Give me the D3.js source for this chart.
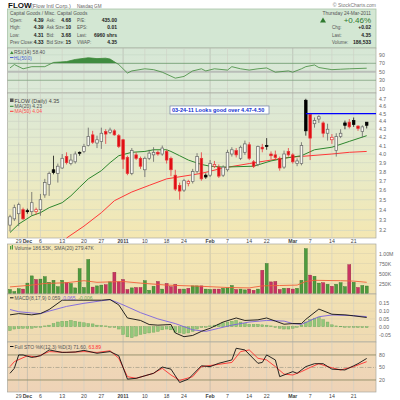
<!DOCTYPE html>
<html><head><meta charset="utf-8">
<script src="https://cdn.jsdelivr.net/npm/d3@7"></script>
<style>body{margin:0;background:#fff}svg{display:block;font-family:"Liberation Sans",Arial,sans-serif}</style>
</head><body><svg id="c" width="400" height="400"></svg>
<script>
// ---------- DATA ----------
const open  = [3.25,3.31,3.36,3.40,3.39,3.38,3.38,3.40,3.55,3.66,3.82,3.78,3.84,3.97,3.89,3.91,4.02,4.03,4.10,4.23,4.13,4.15,4.27,4.26,4.28,4.22,4.17,3.96,3.78,3.99,3.95,3.82,3.95,3.99,4.02,4.00,4.03,3.95,3.76,3.65,3.60,3.67,3.69,3.80,3.95,3.76,3.76,3.86,3.85,3.76,3.82,4.00,4.04,3.95,4.02,4.11,3.91,3.88,4.08,4.10,4.00,3.99,3.95,3.85,4.03,3.99,3.89,3.89,4.68,4.49,4.37,4.43,4.38,4.25,4.17,4.04,4.21,4.38,4.39,4.41,4.34,4.27,4.39];
const high  = [3.35,3.45,3.47,3.42,3.41,3.58,3.42,3.56,3.72,3.80,3.98,3.89,4.00,4.02,4.00,4.03,4.03,4.12,4.32,4.28,4.22,4.32,4.30,4.32,4.30,4.24,4.18,3.98,4.07,4.02,3.97,3.97,4.05,4.08,4.04,4.10,4.05,3.97,3.82,3.68,3.72,3.71,3.83,4.01,4.02,3.78,3.93,3.92,3.88,3.87,4.05,4.08,4.07,4.10,4.16,4.14,3.93,4.10,4.12,4.19,4.03,4.04,3.97,4.04,4.07,4.01,3.95,4.14,4.70,4.50,4.45,4.48,4.40,4.37,4.24,4.25,4.30,4.41,4.43,4.45,4.35,4.35,4.39];
const low   = [3.19,3.29,3.24,3.30,3.36,3.34,3.35,3.34,3.52,3.54,3.77,3.68,3.83,3.88,3.87,3.89,3.98,4.01,4.09,4.12,4.07,4.06,4.12,4.24,4.22,4.07,3.83,3.76,3.76,3.93,3.83,3.74,3.93,3.91,3.98,3.98,3.89,3.75,3.59,3.50,3.58,3.64,3.67,3.78,3.70,3.72,3.74,3.84,3.73,3.74,3.80,3.97,3.96,3.93,3.99,3.93,3.84,3.86,4.02,4.05,3.94,3.93,3.81,3.83,3.97,3.89,3.86,3.87,4.22,3.93,4.32,4.38,4.20,4.16,4.12,3.97,4.19,4.30,4.31,4.33,4.28,4.20,4.31];
const close = [3.33,3.42,3.45,3.31,3.38,3.47,3.40,3.50,3.68,3.78,3.79,3.86,3.95,3.90,3.93,4.00,4.01,4.09,4.21,4.14,4.17,4.25,4.24,4.29,4.23,4.09,3.94,3.78,4.04,3.95,3.86,3.95,4.01,4.02,4.00,4.07,3.93,3.82,3.61,3.59,3.70,3.69,3.80,3.97,3.72,3.74,3.89,3.88,3.75,3.85,4.02,4.05,3.99,4.08,4.12,3.95,3.86,4.09,4.06,4.09,3.98,3.96,3.84,4.00,3.99,3.91,3.92,4.10,4.28,4.19,4.41,4.46,4.25,4.30,4.20,4.21,4.25,4.35,4.33,4.36,4.31,4.33,4.35];
const volume = [100,50,120,110,260,440,350,360,420,280,330,170,330,270,250,140,620,150,850,160,190,210,220,290,530,290,350,100,140,150,150,320,80,180,300,110,250,170,230,110,110,130,190,190,190,110,100,110,110,130,140,200,100,110,90,110,80,110,580,750,290,300,100,130,130,110,130,330,1120,460,430,260,270,230,180,230,270,170,720,280,150,200,187];
const volSma20 = [[0,165],[4,200],[8,250],[13,270],[17,320],[20,280],[26,300],[30,260],[36,210],[44,180],[50,150],[55,140],[58,190],[62,200],[66,210],[68,300],[70,330],[76,320],[79,310],[82,280]];
const ma20 = [[0,3.18],[2,3.26],[5,3.34],[7,3.37],[9,3.42],[12,3.47],[14,3.54],[16,3.63],[18,3.72],[21,3.81],[23,3.90],[25,3.98],[28,4.02],[31,4.03],[33,4.05],[36,4.05],[37,4.03],[39,3.98],[41,3.93],[44,3.88],[46,3.86],[49,3.85],[56,3.86],[60,3.92],[63,3.95],[67,3.98],[70,4.05],[74,4.08],[78,4.15],[82,4.22]];
const ma50 = [[13,3.13],[17,3.24],[21,3.37],[24,3.49],[28,3.58],[32,3.65],[36,3.72],[40,3.75],[44,3.78],[49,3.84],[55,3.89],[60,3.93],[64,3.96],[69,3.98],[74,4.00],[78,4.02],[82,4.03]];
const rsi = [[0,59],[1,67],[3,57],[5,62],[8,62],[10,72],[13,74],[15,79],[18,83],[20,81],[22,82],[23,80],[25,67],[27,47],[28,52],[31,57],[33,55],[35,49],[38,35],[40,39],[42,52],[44,57],[45,52],[47,57],[50,54],[51,62],[53,57],[55,54],[57,57],[59,59],[61,49],[64,52],[65,49],[67,57],[68,62],[70,66],[71,60],[74,55],[76,56],[78,57],[82,58.4]];
const macdLine = [[0,0.076],[2,0.084],[5,0.076],[7,0.084],[9,0.11],[12,0.17],[17,0.17],[21,0.17],[23,0.174],[25,0.14],[27,0.056],[30,0.04],[32,0.014],[34,0.01],[37,0.014],[38,-0.04],[40,-0.064],[42,-0.056],[44,-0.03],[46,-0.01],[49,0.03],[52,0.056],[54,0.04],[57,0.044],[59,0.056],[61,0.036],[63,0.016],[65,0.02],[67,0.02],[68,0.047],[71,0.113],[74,0.08],[77,0.076],[79,0.07],[82,0.059]];
const macdSignal = [[0,0.11],[2,0.096],[5,0.088],[7,0.084],[9,0.10],[13,0.13],[17,0.15],[21,0.166],[23,0.174],[26,0.14],[30,0.09],[34,0.05],[38,0.02],[42,-0.02],[45,-0.03],[48,-0.01],[51,0.01],[55,0.03],[59,0.04],[63,0.036],[65,0.02],[67,0.015],[71,0.064],[74,0.075],[78,0.072],[82,0.065]];
const macdHist = [-0.025,-0.015,-0.012,-0.01,-0.01,-0.01,-0.005,0,0.005,0.01,0.02,0.03,0.035,0.035,0.04,0.035,0.03,0.025,0.02,0.018,0.01,0.008,0.005,0,-0.005,-0.015,-0.05,-0.065,-0.07,-0.06,-0.05,-0.045,-0.04,-0.035,-0.03,-0.02,-0.015,-0.02,-0.035,-0.04,-0.045,-0.04,-0.03,-0.015,-0.005,0,0.005,0.01,0.015,0.025,0.03,0.035,0.04,0.03,0.02,0.015,0.015,0.015,0.012,0.01,0.005,-0.005,-0.01,-0.015,-0.015,-0.01,0,0.01,0.03,0.045,0.055,0.06,0.045,0.03,0.012,0.005,0.003,0,-0.003,-0.003,-0.005,-0.006,-0.006];
const stoK = [[0,36],[1,48],[2,80],[3,80],[5,74],[7,78],[9,92],[12,86],[15,87],[17,91],[20,84],[23,88],[25,78],[27,22],[29,24],[31,30],[33,36],[35,51],[37,46],[39,14],[41,22],[44,54],[46,52],[48,60],[51,68],[52,96],[54,92],[57,60],[58,62],[59,80],[61,68],[62,28],[64,36],[65,40],[66,36],[68,52],[70,59],[72,59],[74,46],[77,44],[79,54],[80,59],[82,71.6]];
const stoD = [[0,52],[1,64],[4,78],[6,75],[9,88],[13,86],[17,88],[20,86],[23,90],[25,72],[27,28],[29,24],[33,36],[35,48],[37,32],[39,19],[42,28],[44,52],[47,56],[51,62],[53,88],[55,92],[57,72],[59,68],[61,52],[63,34],[65,32],[67,40],[69,50],[71,59],[73,52],[76,44],[79,52],[82,63.89]];
const xTickIdx = [2,4,7,12,17,21,26,31,36,40,46,50,55,59,65,69,74,79];
const xTickLabel = ["29","Dec","6","13","20","27","2011","10","18","24","Feb","7","14","22","Mar","7","14","21"];
const priceTicks = [3.2,3.3,3.4,3.5,3.6,3.7,3.8,3.9,4.0,4.1,4.2,4.3,4.4,4.5,4.6,4.7];
const rsiTicks = [10,30,50,70,90];
const volTicks = [250,500,750,1000];
const volTickLabel = ["250K","500K","750K","1.00M"];
const macdTicks = [-0.05,0,0.05,0.10,0.15];
const stoTicks = [20,50,80];
const resistance = 4.50, resistanceStart = 68;

// ---------- LAYOUT ----------
const svg = d3.select('#c');
const L = 7.5, R = 376;
const P = {rsi:[48,93], price:[93,238], vol:[244,294], macd:[294,342], sto:[342,392]};
const x = d3.scaleLinear().domain([0,82]).range([10,366.7]);
const yP = d3.scaleLog().domain([3.13,4.78]).range([P.price[1],P.price[0]]);
const yR = d3.scaleLinear().domain([0,106]).range([P.rsi[1],P.rsi[0]]);
const yV = d3.scaleLinear().domain([0,1250]).range([293.5,243.5]);
const yM = d3.scaleLinear().domain([-0.098,0.2096]).range([P.macd[1],P.macd[0]]);
const yS = d3.scaleLinear().domain([-8.8,111]).range([P.sto[1],P.sto[0]]);

const defs = svg.append('defs');
function grad(id, stops){
  const g = defs.append('linearGradient').attr('id',id).attr('x1',0).attr('y1',0).attr('x2',0).attr('y2',1);
  stops.forEach(s=>g.append('stop').attr('offset',s[0]).attr('stop-color',s[1]));
}
grad('gRsi',[[0,'#d6e7d5'],[1,'#dde9d8']]);
grad('gPrice',[[0,'#dae7d7'],[0.45,'#e6ebcb'],[1,'#f4e7b2']]);
grad('gVol',[[0,'#f4e7b6'],[1,'#f1e1b0']]);
grad('gMacd',[[0,'#f2e1b2'],[1,'#efdab2']]);
grad('gSto',[[0,'#f0dab6'],[1,'#eed3b7']]);

const FS = 5.6;
const txt = (xx,yy,s,o={}) => svg.append('text').attr('x',xx).attr('y',yy).text(s)
   .attr('font-size',o.fs||FS).attr('fill',o.fill||'#333').attr('font-weight',o.fw||'normal')
   .attr('text-anchor',o.anchor||'start');

// ---------- HEADER ----------
txt(8,7.5,'FLOW',{fs:8,fw:'bold',fill:'#111'});
txt(31,7.5,'(Flow Intl Corp.)',{fs:5.6,fill:'#666'});
txt(77,7.5,'Nasdaq GM',{fs:4.6,fill:'#666'});
txt(376,7,'© StockCharts.com',{fs:5,fill:'#777',anchor:'end'});
svg.append('rect').attr('x',L).attr('y',9).attr('width',R-L).attr('height',39)
   .attr('fill','#d3e7d3').attr('stroke','#a9c3a9').attr('stroke-width',0.8);
const hdrY = [21.5,29,36.5,44];
const LF = 4.5, VF = 5;
txt(10,15,'Capital Goods / Misc. Capital Goods',{fill:'#555',fs:4.8});
txt(371,15,'Thursday  24-Mar-2011',{fill:'#555',anchor:'end',fs:4.8});
const col1 = [['Open:','4.39'],['High:','4.39'],['Low:','4.31'],['Prev Close:','4.33']];
const col2 = [['Ask:','4.68'],['Ask Size:','10'],['Bid:','3.68'],['Bid Size:','15']];
const col3 = [['P/E:','435.00'],['EPS:','0.01'],['Last:','6960 shrs'],['VWAP:','4.35']];
const col4 = [['',''],['Chg:','+0.02'],['Last:','4.35'],['Volume:','186,533']];
hdrY.forEach((yy,k)=>{
  txt(10,yy,col1[k][0],{fill:'#555',fs:LF}); txt(43.5,yy,col1[k][1],{fw:'bold',anchor:'end',fill:'#222',fs:VF});
  txt(46.5,yy,col2[k][0],{fill:'#555',fs:LF}); txt(71,yy,col2[k][1],{fw:'bold',anchor:'end',fill:'#222',fs:VF});
  txt(77,yy,col3[k][0],{fill:'#555',fs:LF}); txt(117,yy,col3[k][1],{fw:'bold',anchor:'end',fill:'#222',fs:VF});
  if(k>0){ txt(332,yy,col4[k][0],{fill:'#555',fs:LF}); txt(371,yy,col4[k][1],{fw:'bold',anchor:'end',fill:'#222',fs:VF}); }
});
svg.append('path').attr('d','M320,22.5 L323,17.5 L326,22.5 Z').attr('fill','#2f7a2f');
txt(371,22.5,'+0.46%',{fs:8,fill:'#2f7a2f',anchor:'end'});

// ---------- PANELS ----------
function panel(r, g){
  svg.append('rect').attr('x',L).attr('y',r[0]).attr('width',R-L).attr('height',r[1]-r[0])
     .attr('fill',`url(#${g})`).attr('stroke','#a8a8a0').attr('stroke-width',0.7);
  svg.append('g').selectAll('line').data(xTickIdx).join('line')
     .attr('x1',d=>x(d)).attr('x2',d=>x(d)).attr('y1',r[0]).attr('y2',r[1])
     .attr('stroke',(d,k)=>[1,6,10,14].includes(k)?'#b0b0a8':'#cfcfc4').attr('stroke-width',0.6);
}
function hgrid(r, ys, color, w){
  svg.append('g').selectAll('line').data(ys).join('line')
     .attr('x1',L).attr('x2',R).attr('y1',d=>d).attr('y2',d=>d)
     .attr('stroke',color||'#cfd0c6').attr('stroke-width',w||0.6);
}
function rlabels(vals, scale, fmt){
  svg.append('g').selectAll('text').data(vals).join('text')
     .attr('x',379).attr('y',d=>scale(d)+2).text((d,k)=>fmt(d,k))
     .attr('font-size',5.2).attr('fill','#666');
}
const lineGen = (ys) => d3.line().x(d=>x(d[0])).y(d=>ys(d[1]));

// RSI
panel(P.rsi,'gRsi');
hgrid(P.rsi,[yR(90),yR(10)],'#c6d6c4');
hgrid(P.rsi,[yR(50)],'#b9bdb8',2.2);
hgrid(P.rsi,[yR(70),yR(30)],'#7fa27f',0.8);
defs.append('clipPath').attr('id','rsiTop').append('rect').attr('x',L).attr('y',P.rsi[0]).attr('width',R-L).attr('height',yR(70)-P.rsi[0]);
svg.append('path').datum(rsi).attr('clip-path','url(#rsiTop)')
   .attr('d',d3.area().x(d=>x(d[0])).y0(yR(70)).y1(d=>yR(d[1]))).attr('fill','#3f8c3f');
svg.append('path').datum(rsi).attr('d',lineGen(yR)).attr('fill','none').attr('stroke','#3f8a3a').attr('stroke-width',0.8);
rlabels(rsiTicks,yR,d=>d);
svg.append('path').attr('d','M10,54 L11.8,51 L13.6,54 Z').attr('fill','#3f8a3a');
txt(14,54,'RSI(14) 58.40',{fs:5,fill:'#555'});
svg.append('line').attr('x1',10).attr('x2',13.5).attr('y1',57.5).attr('y2',57.5).attr('stroke','#4a5fd0').attr('stroke-width',1);
txt(14,59.5,'HL(50.0)',{fs:4.6,fill:'#4a5fd0'});

// PRICE
panel(P.price,'gPrice');
hgrid(P.price,priceTicks.map(yP),'#cdd3c2');
rlabels(priceTicks,yP,d=>d.toFixed(1));
svg.append('path').datum(ma50).attr('d',lineGen(yP)).attr('fill','none').attr('stroke','#ff3838').attr('stroke-width',1);
svg.append('path').datum(ma20).attr('d',lineGen(yP)).attr('fill','none').attr('stroke','#2d862d').attr('stroke-width',1);
const cw = 2.6;
const candles = d3.range(open.length).map(i=>({i,o:open[i],h:high[i],l:low[i],c:close[i],
   down: i>0 && close[i]<close[i-1], hollow: close[i]>=open[i]}));
const cg = svg.append('g');
cg.selectAll('line').data(candles).join('line')
  .attr('x1',d=>x(d.i)).attr('x2',d=>x(d.i)).attr('y1',d=>yP(d.h)).attr('y2',d=>yP(d.l))
  .attr('stroke',d=>d.down?'#e8393c':(d.hollow?'#666':'#111')).attr('stroke-width',0.8);
cg.selectAll('rect').data(candles).join('rect')
  .attr('x',d=>x(d.i)-cw/2).attr('width',cw)
  .attr('y',d=>yP(Math.max(d.o,d.c))).attr('height',d=>Math.max(1,Math.abs(yP(d.o)-yP(d.c))))
  .attr('fill',d=>d.hollow?'#f7f7ee':(d.down?'#e00d12':'#000'))
  .attr('stroke',d=>d.down?'#e8393c':(d.hollow?'#666':'#000')).attr('stroke-width',0.7);
svg.append('line').attr('x1',x(resistanceStart)).attr('x2',R).attr('y1',yP(resistance)).attr('y2',yP(resistance))
   .attr('stroke','#0000ff').attr('stroke-width',1.2);
svg.append('rect').attr('x',170).attr('y',106).attr('width',99).attr('height',8).attr('fill','#fff').attr('stroke','#7080a8').attr('stroke-width',0.7);
txt(172,112.2,'03-24-11 Looks good over 4.47-4.50',{fs:5.5,fw:'bold',fill:'#1030d0'});
svg.append('rect').attr('x',10).attr('y',98.5).attr('width',3.5).attr('height',3.5).attr('fill','#555');
txt(14.5,102.5,'FLOW (Daily) 4.35',{fs:5.4,fill:'#444'});
svg.append('line').attr('x1',10).attr('x2',13.5).attr('y1',106.3).attr('y2',106.3).attr('stroke','#2d862d').attr('stroke-width',1);
txt(14.5,108,'MA(20) 4.23',{fs:5,fill:'#555'});
svg.append('line').attr('x1',10).attr('x2',13.5).attr('y1',111.3).attr('y2',111.3).attr('stroke','#ff3838').attr('stroke-width',1);
txt(14.5,113,'MA(50) 4.04',{fs:5,fill:'#ff5050'});

// X labels
function xlabels(yy){
  svg.append('g').selectAll('text').data(xTickIdx).join('text')
    .attr('x',d=>x(d)).attr('y',yy).text((d,k)=>xTickLabel[k]).attr('text-anchor','middle')
    .attr('font-size',5.2).attr('fill','#444')
    .attr('font-weight',(d,k)=>isNaN(+xTickLabel[k])||xTickLabel[k]==='2011'?'bold':'normal');
}
xlabels(243);

// VOLUME
panel(P.vol,'gVol');
hgrid(P.vol,volTicks.map(yV),'#dcd2ae');
rlabels(volTicks,yV,(d,k)=>volTickLabel[k]);
svg.append('g').selectAll('rect').data(volume).join('rect')
  .attr('x',(d,i)=>x(i)-1.5).attr('width',3)
  .attr('y',d=>yV(d)).attr('height',d=>yV(0)-yV(d))
  .attr('fill',(d,i)=>i>0&&close[i]<close[i-1]?'#c83462':'#4f9b3e')
  .attr('stroke',(d,i)=>i>0&&close[i]<close[i-1]?'#93203f':'#2f6e2a').attr('stroke-width',0.4);
svg.append('path').datum(volSma20).attr('d',lineGen(yV)).attr('fill','none').attr('stroke','#f0603a').attr('stroke-width',0.9);
svg.append('rect').attr('x',10).attr('y',246).attr('width',1.2).attr('height',3.5).attr('fill','#4f9b3e');
svg.append('rect').attr('x',11.8).attr('y',245).attr('width',1.2).attr('height',4.5).attr('fill','#4f9b3e');
txt(14.5,249.8,'Volume 186.53K, SMA(20) 279.47K',{fs:5,fill:'#555'});

// MACD
panel(P.macd,'gMacd');
hgrid(P.macd,macdTicks.map(yM),'#dccfae');
rlabels(macdTicks,yM,d=>d.toFixed(2));
svg.append('g').selectAll('rect').data(macdHist).join('rect')
  .attr('x',(d,i)=>x(i)-1.4).attr('width',2.8)
  .attr('y',d=>yM(Math.max(0,d))).attr('height',d=>Math.max(0.6,Math.abs(yM(d)-yM(0))))
  .attr('fill','#93c77a').attr('stroke','#6aa45a').attr('stroke-width',0.4);
svg.append('path').datum(macdSignal).attr('d',lineGen(yM)).attr('fill','none').attr('stroke','#7a62e0').attr('stroke-width',0.9);
svg.append('path').datum(macdLine).attr('d',lineGen(yM)).attr('fill','none').attr('stroke','#111').attr('stroke-width',0.9);
svg.append('line').attr('x1',10).attr('x2',13.5).attr('y1',297.8).attr('y2',297.8).attr('stroke','#111').attr('stroke-width',1);
const mt = svg.append('text').attr('x',14.5).attr('y',299.8).attr('font-size',5);
mt.append('tspan').text('MACD(8,17,9) 0.059, ').attr('fill','#555');
mt.append('tspan').text('0.065, ').attr('fill','#7a62e0');
mt.append('tspan').text('-0.006').attr('fill','#6aa45a');

// STO
panel(P.sto,'gSto');
svg.append('line').attr('x1',L).attr('x2',R).attr('y1',yS(50)).attr('y2',yS(50)).attr('stroke','#a9a28c').attr('stroke-width',0.8).attr('stroke-dasharray','4,1.5,1,1.5');
hgrid(P.sto,[yS(80),yS(20)],'#8f8c68',0.9);
rlabels(stoTicks,yS,d=>d);
svg.append('path').datum(stoD).attr('d',lineGen(yS)).attr('fill','none').attr('stroke','#ff3030').attr('stroke-width',0.9);
svg.append('path').datum(stoK).attr('d',lineGen(yS)).attr('fill','none').attr('stroke','#111').attr('stroke-width',0.9);
svg.append('line').attr('x1',10).attr('x2',13.5).attr('y1',346.5).attr('y2',346.5).attr('stroke','#111').attr('stroke-width',1);
const st = svg.append('text').attr('x',14.5).attr('y',348.5).attr('font-size',5);
st.append('tspan').text('Full STO %K(12,3) %D(3) 71.60, ').attr('fill','#555');
st.append('tspan').text('63.89').attr('fill','#ff3030');
xlabels(398);
</script></body></html>
